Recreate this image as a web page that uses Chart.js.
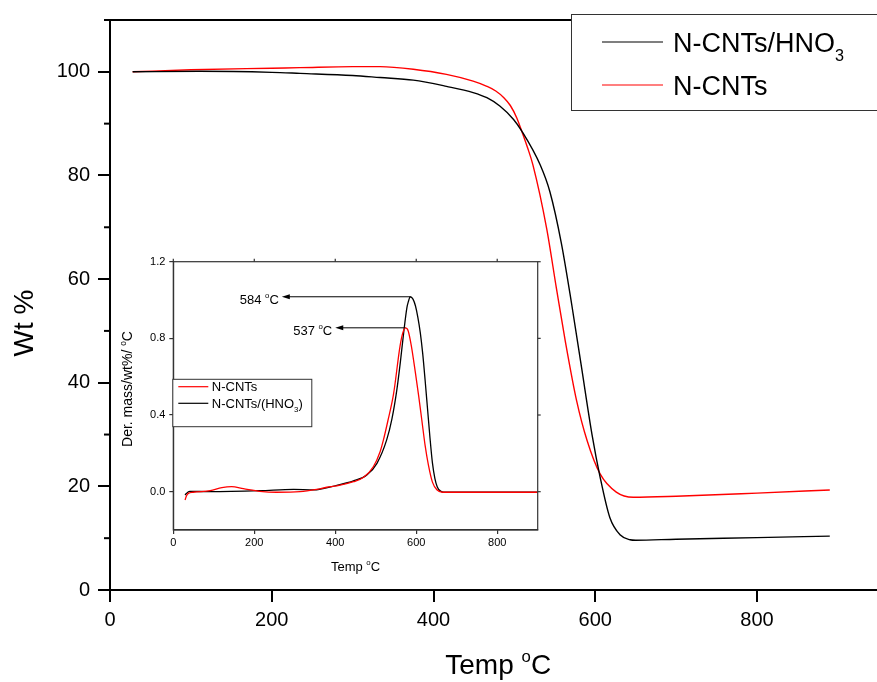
<!DOCTYPE html>
<html>
<head>
<meta charset="utf-8">
<script src="https://cdn.jsdelivr.net/npm/chart.js@4.4.0/dist/chart.umd.min.js"></script>
<style>
  html, body { margin: 0; padding: 0; background: #fff; overflow: hidden; }
  #wrap { position: relative; width: 877px; height: 682px; overflow: hidden; }
  #main { position: absolute; left: 0; top: 0; }
  #inset { position: absolute; left: 100px; top: 250px; }
</style>
</head>
<body>
<div id="wrap">
  <canvas id="main" width="900" height="682"></canvas>
  <canvas id="inset" width="450" height="340"></canvas>
</div>
<script>
// TGA (main chart)
const tgaTempHNO3 = [28, 111, 200, 235, 300, 334, 375, 416, 449, 466, 482, 499, 509, 532, 544, 558, 571, 583, 596, 606, 618, 631, 643, 650, 700, 800, 890];
const tgaWtHNO3   = [100, 100.1, 99.9, 99.7, 99.3, 98.9, 98.4, 97.2, 96.0, 95.0, 93.4, 90.8, 88.6, 82, 76.8, 67, 55, 43, 30, 21.8, 14, 10.6, 9.7, 9.6, 9.8, 10.1, 10.4];
const tgaTempCNT  = [28, 100, 200, 235, 300, 334, 375, 416, 449, 466, 477, 487, 495, 503, 509, 516, 523, 540, 552, 563, 577, 590, 606, 626, 647, 700, 800, 890];
const tgaWtCNT    = [100, 100.4, 100.7, 100.8, 101.0, 101.0, 100.5, 99.5, 98.2, 97.2, 96.3, 95.0, 93.5, 91.1, 88.6, 85.5, 82, 69.7, 58.2, 48, 36.5, 28.8, 22.4, 18.9, 17.9, 18.1, 18.7, 19.3];
const mainNames   = ['N-CNTs/HNO_3', 'N-CNTs'];
const mainXTicks  = [0, 200, 400, 600, 800];
const mainYTicks  = [0, 20, 40, 60, 80, 100];
const mainYMinor  = [10, 30, 50, 70, 90, 110];

// DTG (inset)
const dtgTempCNT  = [29, 33, 37, 49, 91, 120, 144, 173, 214, 255, 313, 354, 379, 404, 445, 470, 494, 511, 519, 530, 544, 560, 567, 573, 580, 588, 598, 606, 614, 622, 630, 640, 651, 665, 900];
const dtgValCNT   = [-0.043, -0.02, -0.009, -0.003, 0.005, 0.021, 0.026, 0.016, 0.002, -0.003, 0.0, 0.012, 0.023, 0.03, 0.052, 0.075, 0.13, 0.21, 0.27, 0.37, 0.51, 0.76, 0.83, 0.855, 0.84, 0.76, 0.62, 0.5, 0.37, 0.24, 0.14, 0.05, 0.01, -0.003, -0.003];
const dtgTempHNO3 = [29, 35, 41, 91, 214, 297, 346, 404, 445, 478, 503, 527, 540, 552, 561, 569, 577, 581, 585, 592, 598, 604, 610, 616, 622, 628, 634, 640, 646, 652, 660, 668, 900];
const dtgValHNO3  = [-0.017, -0.004, 0.002, 0.0, 0.005, 0.012, 0.009, 0.033, 0.056, 0.087, 0.148, 0.27, 0.38, 0.53, 0.68, 0.83, 0.96, 0.995, 1.017, 1.005, 0.97, 0.91, 0.83, 0.72, 0.58, 0.43, 0.28, 0.15, 0.07, 0.025, 0.003, -0.003, -0.003];
const insetNames  = ['N-CNTs', 'N-CNTs/(HNO_3)'];
const insetXTicks = [0, 200, 400, 600, 800];
const insetYTicks = [0, 0.4, 0.8, 1.2];
const peakLabels  = ['584 ^oC', '537 ^oC'];
const peakTemp    = [585, 573];
const peakVal     = [1.017, 0.855];
const arrowToTemp = [268, 400];

const FONT = "'Liberation Sans', Arial, sans-serif";

function pts(xs, ys) { return xs.map((x, i) => ({x: x, y: ys[i]})); }

// '^c' = superscript char, '_c' = subscript char
function richText(ctx, str, x, y, size, align) {
  const parts = [];
  for (let i = 0; i < str.length; i++) {
    const c = str[i];
    if ((c === '^' || c === '_') && i + 1 < str.length) {
      parts.push({t: str[i + 1], s: size * 0.6, dy: c === '^' ? -size * 0.43 : size * 0.33});
      i++;
    } else if (parts.length && parts[parts.length - 1].plain) {
      parts[parts.length - 1].t += c;
    } else {
      parts.push({t: c, s: size, dy: 0, plain: true});
    }
  }
  let w = 0;
  parts.forEach(p => { ctx.font = p.s + 'px ' + FONT; p.w = ctx.measureText(p.t).width; w += p.w; });
  let cx = align === 'center' ? x - w / 2 : (align === 'right' ? x - w : x);
  ctx.textAlign = 'left';
  ctx.textBaseline = 'alphabetic';
  parts.forEach(p => { ctx.font = p.s + 'px ' + FONT; ctx.fillText(p.t, cx, y + p.dy); cx += p.w; });
}

const mainExtras = {
  id: 'mainExtras',
  afterDraw(chart) {
    const ctx = chart.ctx, a = chart.chartArea, ys = chart.scales.y;
    ctx.save();
    ctx.strokeStyle = '#000';
    ctx.lineWidth = 2;
    mainYMinor.forEach(v => {
      const y = ys.getPixelForValue(v);
      ctx.beginPath(); ctx.moveTo(a.left - 6, y); ctx.lineTo(a.left, y); ctx.stroke();
    });
    ctx.beginPath(); ctx.moveTo(a.left, a.top); ctx.lineTo(a.right, a.top); ctx.stroke();

    ctx.fillStyle = '#000';
    richText(ctx, 'Temp ^oC', (a.left + a.right) / 2, 674, 28, 'center');
    ctx.save();
    ctx.translate(33, 323);
    ctx.rotate(-Math.PI / 2);
    richText(ctx, 'Wt %', 0, 0, 28, 'center');
    ctx.restore();

    // legend
    ctx.fillStyle = '#fff';
    ctx.fillRect(571, 14, 340, 96);
    ctx.strokeStyle = '#333';
    ctx.lineWidth = 1;
    ctx.strokeRect(571.5, 14.5, 340, 96);
    const rows = [42, 85];
    chart.data.datasets.forEach((ds, i) => {
      ctx.strokeStyle = ds.borderColor;
      ctx.lineWidth = 1.2;
      ctx.beginPath(); ctx.moveTo(602, rows[i]); ctx.lineTo(663, rows[i]); ctx.stroke();
      ctx.fillStyle = '#000';
      richText(ctx, mainNames[i], 673, rows[i] + 10, 27, 'left');
    });
    ctx.restore();
  }
};

const insetExtras = {
  id: 'insetExtras',
  afterDraw(chart) {
    const ctx = chart.ctx, a = chart.chartArea, xs = chart.scales.x, ys = chart.scales.y;
    ctx.save();
    ctx.strokeStyle = '#333';
    ctx.lineWidth = 1.2;
    ctx.strokeRect(a.left, a.top, a.right - a.left, a.bottom - a.top);
    insetXTicks.forEach(v => {
      const x = xs.getPixelForValue(v);
      ctx.beginPath(); ctx.moveTo(x, a.top); ctx.lineTo(x, a.top - 3); ctx.stroke();
    });
    insetYTicks.forEach(v => {
      const y = ys.getPixelForValue(v);
      ctx.beginPath(); ctx.moveTo(a.right, y); ctx.lineTo(a.right + 3, y); ctx.stroke();
    });

    ctx.fillStyle = '#000';
    richText(ctx, 'Temp ^oC', (a.left + a.right) / 2, 321, 13, 'center');
    ctx.save();
    ctx.translate(32, 139);
    ctx.rotate(-Math.PI / 2);
    richText(ctx, 'Der. mass/wt%/ ^oC', 0, 0, 14, 'center');
    ctx.restore();

    // peak arrows
    ctx.strokeStyle = '#000';
    ctx.lineWidth = 1;
    peakLabels.forEach((lab, i) => {
      const y = ys.getPixelForValue(peakVal[i]);
      const x1 = xs.getPixelForValue(peakTemp[i]);
      const x0 = xs.getPixelForValue(arrowToTemp[i]);
      ctx.beginPath(); ctx.moveTo(x0 + 6, y); ctx.lineTo(x1, y); ctx.stroke();
      ctx.beginPath(); ctx.moveTo(x0, y); ctx.lineTo(x0 + 8, y - 2.5); ctx.lineTo(x0 + 8, y + 2.5); ctx.closePath(); ctx.fill();
      richText(ctx, lab, x0 - 3, y + 7, 13, 'right');
    });

    // legend
    ctx.fillStyle = '#fff';
    ctx.fillRect(a.left - 0.5, 129.3, 139, 47.4);
    ctx.strokeStyle = '#333';
    ctx.lineWidth = 1;
    ctx.strokeRect(a.left - 0.5, 129.3, 139, 47.4);
    const rows = [136.7, 153.3];
    chart.data.datasets.forEach((ds, i) => {
      ctx.strokeStyle = ds.borderColor;
      ctx.lineWidth = 1.2;
      ctx.beginPath(); ctx.moveTo(a.left + 5, rows[i]); ctx.lineTo(a.left + 35, rows[i]); ctx.stroke();
      ctx.fillStyle = '#000';
      richText(ctx, insetNames[i], a.left + 38.5, rows[i] + 4.7, 13, 'left');
    });
    ctx.restore();
  }
};

function axis(opts) {
  return {
    type: 'linear',
    min: opts.min, max: opts.max,
    afterFit: opts.fit,
    afterBuildTicks: s => { s.ticks = opts.ticks.map(v => ({value: v})); },
    ticks: {
      color: '#000', padding: opts.pad, autoSkip: false, maxRotation: 0,
      font: {family: FONT, size: opts.font},
      callback: opts.fmt || (v => String(v))
    },
    grid: {drawOnChartArea: false, drawTicks: true, tickLength: opts.tl, lineWidth: opts.lw, color: opts.color},
    border: {display: true, width: opts.lw, color: opts.color}
  };
}

Chart.defaults.font.family = FONT;

new Chart(document.getElementById('main'), {
  type: 'line',
  data: {
    datasets: [
      {label: mainNames[0], data: pts(tgaTempHNO3, tgaWtHNO3), borderColor: '#000000', borderWidth: 1.4, pointRadius: 0, cubicInterpolationMode: 'monotone', fill: false},
      {label: mainNames[1], data: pts(tgaTempCNT, tgaWtCNT), borderColor: '#ff0000', borderWidth: 1.4, pointRadius: 0, cubicInterpolationMode: 'monotone', fill: false}
    ]
  },
  options: {
    responsive: false, animation: false, devicePixelRatio: 1,
    layout: {padding: {left: 0, top: 16, right: 13.6, bottom: 0}},
    plugins: {legend: {display: false}, tooltip: {enabled: false}},
    scales: {
      x: axis({min: 0, max: 960, ticks: mainXTicks, fit: s => { s.height = 92; }, pad: 6, font: 20, tl: 12, lw: 2, color: '#000'}),
      y: axis({min: 0, max: 110, ticks: mainYTicks, fit: s => { s.width = 110; }, pad: 8, font: 20, tl: 12, lw: 2, color: '#000'})
    }
  },
  plugins: [mainExtras]
});

new Chart(document.getElementById('inset'), {
  type: 'line',
  data: {
    datasets: [
      {label: insetNames[0], data: pts(dtgTempCNT, dtgValCNT), borderColor: '#ff0000', borderWidth: 1.3, pointRadius: 0, cubicInterpolationMode: 'monotone', fill: false},
      {label: insetNames[1], data: pts(dtgTempHNO3, dtgValHNO3), borderColor: '#000000', borderWidth: 1.3, pointRadius: 0, cubicInterpolationMode: 'monotone', fill: false}
    ]
  },
  options: {
    responsive: false, animation: false, devicePixelRatio: 1,
    layout: {padding: {left: 0, top: 11.7, right: 12.3, bottom: 0}},
    plugins: {legend: {display: false}, tooltip: {enabled: false}},
    scales: {
      x: axis({min: 0, max: 900, ticks: insetXTicks, fit: s => { s.height = 60; }, pad: 2, font: 11, tl: 4, lw: 1.2, color: '#333'}),
      y: axis({min: -0.2, max: 1.2, ticks: insetYTicks, fit: s => { s.width = 73.3; }, pad: 4, font: 11, tl: 4, lw: 1.2, color: '#333', fmt: v => v.toFixed(1)})
    }
  },
  plugins: [insetExtras]
});
</script>
</body>
</html>
